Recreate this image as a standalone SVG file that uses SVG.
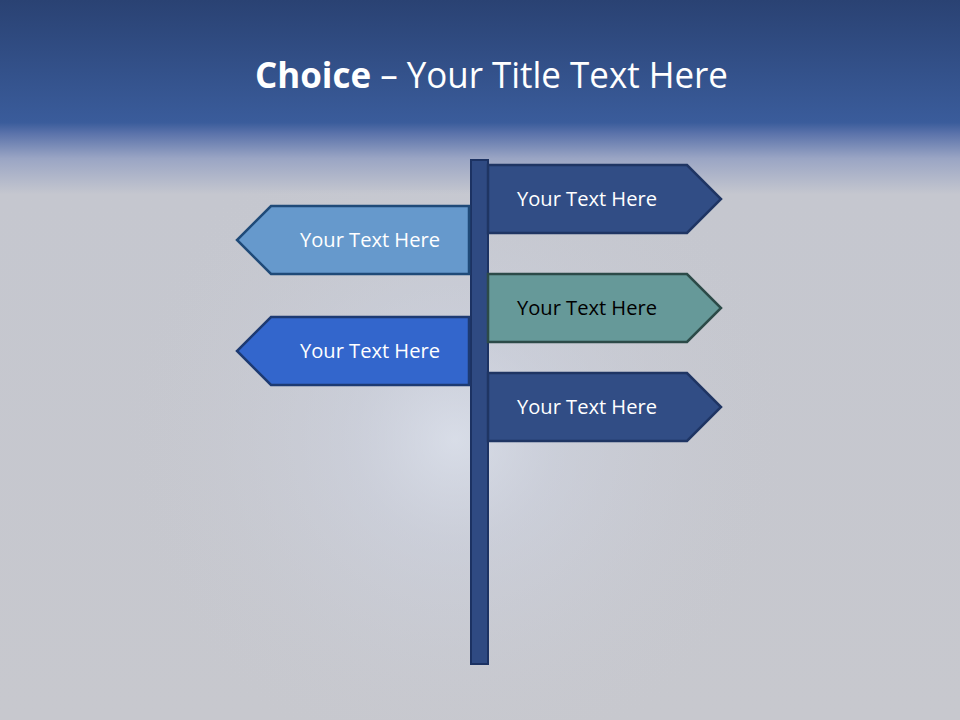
<svg xmlns="http://www.w3.org/2000/svg" width="960" height="720" viewBox="0 0 960 720">
<defs>
<linearGradient id="bg" x1="0" y1="0" x2="0" y2="1">
<stop offset="0" stop-color="#2a4273"/>
<stop offset="0.17" stop-color="#3a5c9b"/>
<stop offset="0.185" stop-color="#5a72aa"/>
<stop offset="0.22" stop-color="#9aa5c4"/>
<stop offset="0.27" stop-color="#c5c7cf"/>
<stop offset="1" stop-color="#c7c8ce"/>
</linearGradient>
<radialGradient id="glow" cx="455" cy="440" r="340" gradientUnits="userSpaceOnUse">
<stop offset="0" stop-color="#e4ebf8" stop-opacity="0.6"/>
<stop offset="0.3" stop-color="#d4dbec" stop-opacity="0.35"/>
<stop offset="1" stop-color="#c7c8ce" stop-opacity="0"/>
</radialGradient>
<style>
.t{font-family:"Open Sans","Liberation Sans",sans-serif;font-size:20px;fill:#ffffff;text-anchor:middle}
.dk{fill:#000000}
.title{font-family:"Open Sans","Liberation Sans",sans-serif;font-size:36px;fill:#ffffff}
.pole{fill:#2f4a82;stroke:#1c3262;stroke-width:2}
.r{fill:#314d85;stroke:#1f3563;stroke-width:2.5}
.l1{fill:#6699cc;stroke:#1f4a78;stroke-width:2.5}
.l2{fill:#3366cc;stroke:#1d3a72;stroke-width:2.5}
.tl{fill:#669999;stroke:#2c4a48;stroke-width:2.5}
</style>
</defs>
<rect x="0" y="0" width="960" height="720" fill="url(#bg)"/>
<rect x="0" y="190" width="960" height="530" fill="url(#glow)"/>
<text class="title" x="255" y="88" textLength="473" lengthAdjust="spacingAndGlyphs"><tspan font-weight="bold">Choice</tspan> – Your Title Text Here</text>
<g id="pole"><rect class="pole" x="471" y="160" width="17" height="504"/></g>
<g id="sign-r1"><polygon class="r" points="488,165 687,165 721,199 687,233 488,233"/><text class="t" x="587" y="206" textLength="140" lengthAdjust="spacingAndGlyphs">Your Text Here</text></g>
<g id="sign-l1"><polygon class="l1" points="469,206 271,206 237,240 271,274 469,274"/><text class="t" x="370" y="247" textLength="140" lengthAdjust="spacingAndGlyphs">Your Text Here</text></g>
<g id="sign-r2"><polygon class="tl" points="488,274 687,274 721,308 687,342 488,342"/><text class="t dk" x="587" y="315" textLength="140" lengthAdjust="spacingAndGlyphs">Your Text Here</text></g>
<g id="sign-l2"><polygon class="l2" points="469,317 271,317 237,351 271,385 469,385"/><text class="t" x="370" y="358" textLength="140" lengthAdjust="spacingAndGlyphs">Your Text Here</text></g>
<g id="sign-r3"><polygon class="r" points="488,373 687,373 721,407 687,441 488,441"/><text class="t" x="587" y="414" textLength="140" lengthAdjust="spacingAndGlyphs">Your Text Here</text></g>
<g id="connectors"></g>
</svg>
